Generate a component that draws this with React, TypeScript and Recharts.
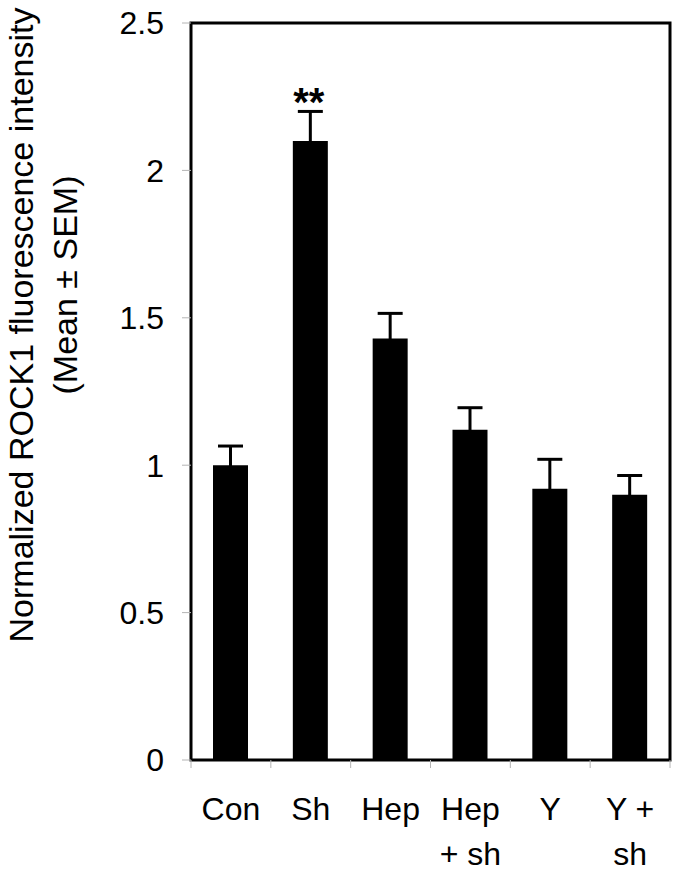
import React from "react";
import {
  BarChart,
  Bar,
  XAxis,
  YAxis,
  ErrorBar,
  ReferenceArea,
  ReferenceDot,
} from "recharts";

const categories = ["Con", "Sh", "Hep", "Hep\n+ sh", "Y", "Y +\nsh"];
const means = [1.0, 2.1, 1.43, 1.12, 0.92, 0.9];
const sems = [0.065, 0.1, 0.085, 0.075, 0.1, 0.065];
const marks = ["", "**", "", "", "", ""];
const yTicks = [0, 0.5, 1, 1.5, 2, 2.5];

const data = categories.map((name, i) => ({ name, mean: means[i], sem: sems[i] }));

const FONT = "Arial, 'Liberation Sans', sans-serif";
const W = 675;
const H = 873;
const Y_AXIS_W = 191;
const RIGHT = 5;
const HALF_BAND = (W - Y_AXIS_W - RIGHT) / categories.length / 2;

const CategoryTick = (props: any) => {
  const { x, y, payload, index } = props;
  const lines = String(payload.value).split("\n");
  return (
    <g>
      <line x1={x - HALF_BAND} x2={x - HALF_BAND} y1={y} y2={y + 8} stroke="#b4b4b4" strokeWidth={1} />
      {index === categories.length - 1 && (
        <line x1={x + HALF_BAND} x2={x + HALF_BAND} y1={y} y2={y + 8} stroke="#b4b4b4" strokeWidth={1} />
      )}
      <text x={x} y={y + 60} textAnchor="middle" fontSize={32} fontFamily={FONT} fill="#000">
        {lines.map((l, i) => (
          <tspan key={i} x={x} dy={i === 0 ? 0 : 45}>
            {l}
          </tspan>
        ))}
      </text>
    </g>
  );
};

const AxisTitle = () => (
  <g fontFamily={FONT} fontSize={34} fill="#000">
    <text x={33} y={325} textAnchor="middle" transform="rotate(-90, 33, 325)">
      Normalized ROCK1 fluorescence intensity
    </text>
    <text x={77} y={285} textAnchor="middle" transform="rotate(-90, 77, 285)">
      (Mean ± SEM)
    </text>
  </g>
);

const StarLabel = (props: any) => {
  const vb = props.viewBox || {};
  const cx = vb.cx ?? vb.x + (vb.width || 0) / 2;
  const cy = vb.cy ?? vb.y + (vb.height || 0) / 2;
  return (
    <text x={cx - 2} y={cy + 5} textAnchor="middle" fontSize={40} fontWeight="bold" fontFamily={FONT} fill="#000">
      {props.value}
    </text>
  );
};

export default function App() {
  return (
    <div style={{ position: "absolute", left: 0, top: 0, width: W, height: H, background: "#fff" }}>
      <BarChart width={W} height={H} data={data} margin={{ top: 23, right: RIGHT, bottom: 0, left: 0 }}>
        <XAxis
          dataKey="name"
          height={113}
          axisLine={false}
          tickLine={false}
          tickSize={0}
          tickMargin={0}
          interval={0}
          tick={<CategoryTick />}
        />
        <YAxis
          type="number"
          domain={[0, 2.5]}
          ticks={yTicks}
          interval={0}
          width={Y_AXIS_W}
          axisLine={false}
          tickLine={{ stroke: "#b4b4b4", strokeWidth: 1 }}
          tickSize={9}
          tickMargin={18}
          tick={{ fontSize: 32, fill: "#000", fontFamily: FONT }}
          label={{ content: () => <AxisTitle /> }}
        />
        <Bar dataKey="mean" fill="#000" barSize={35} isAnimationActive={false}>
          <ErrorBar dataKey="sem" width={12.5} stroke="#000" strokeWidth={3} direction="y" />
        </Bar>
        <ReferenceArea y1={0} y2={2.5} fill="none" stroke="#000" strokeWidth={3} ifOverflow="visible" />
        {marks.map((m, i) =>
          m ? (
            <ReferenceDot
              key={i}
              x={categories[i]}
              y={means[i] + sems[i]}
              r={0}
              fill="none"
              stroke="none"
              ifOverflow="visible"
              label={{ value: m, content: StarLabel }}
            />
          ) : null
        )}
      </BarChart>
    </div>
  );
}
